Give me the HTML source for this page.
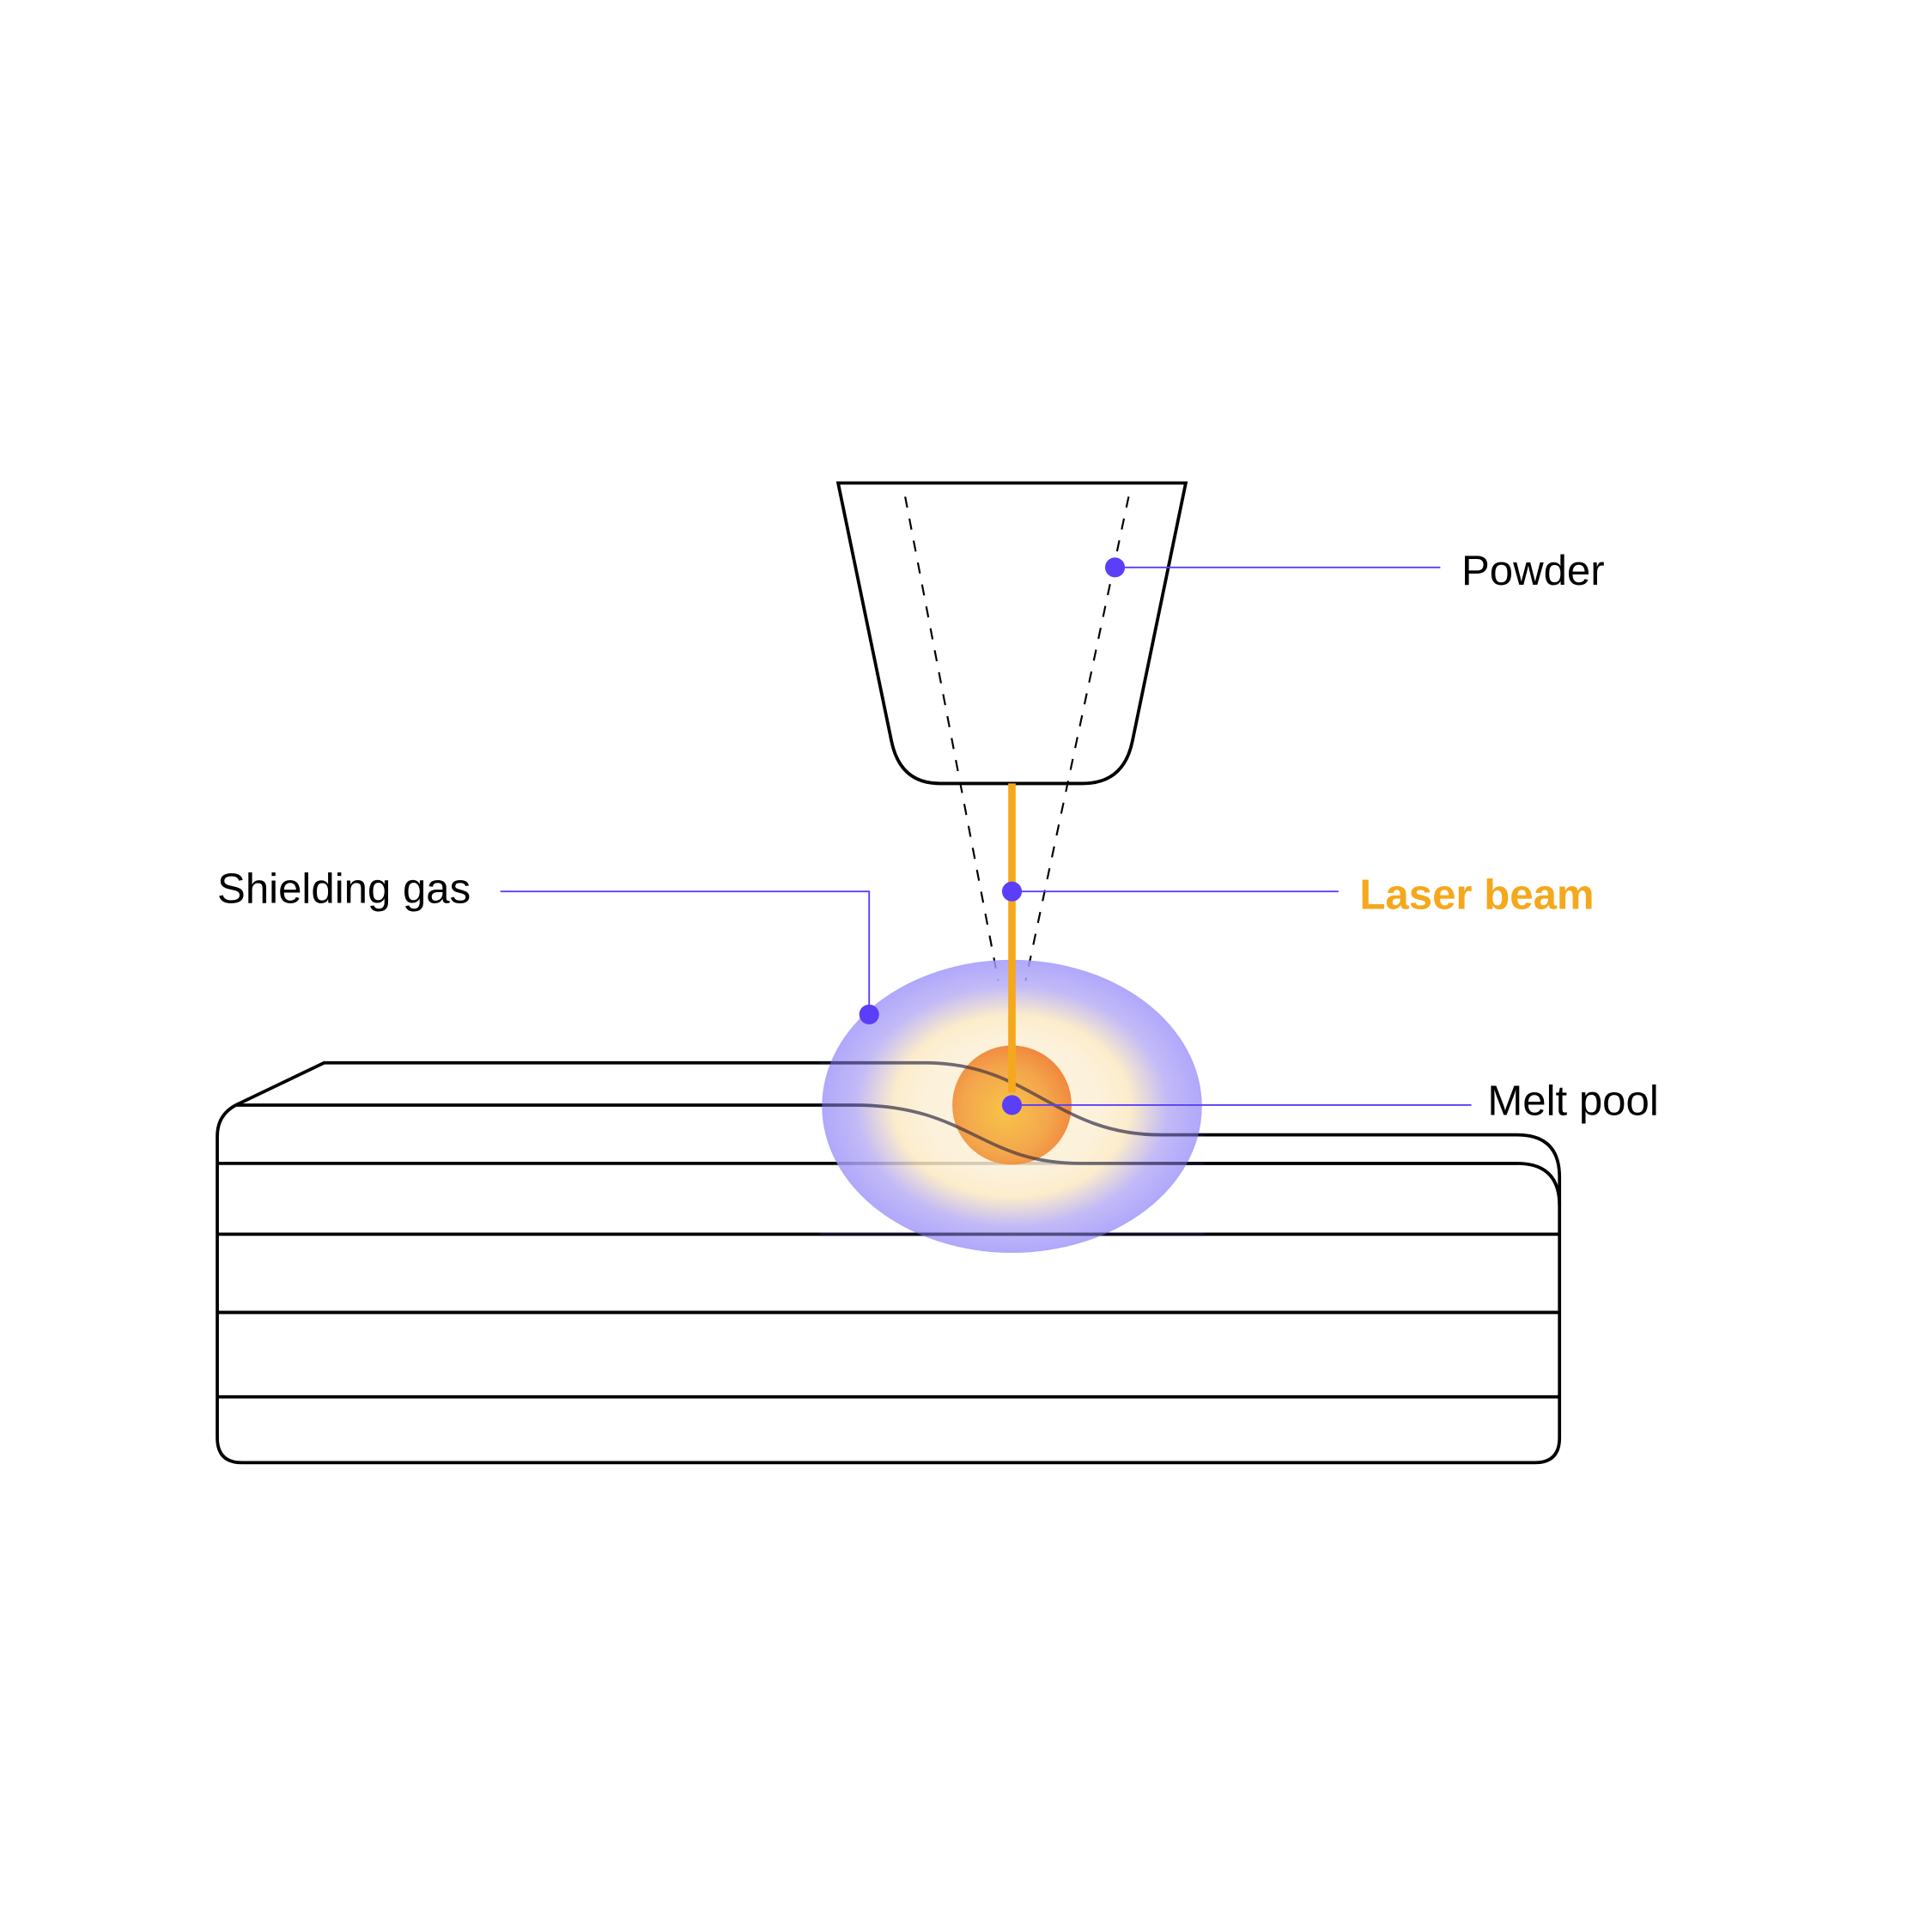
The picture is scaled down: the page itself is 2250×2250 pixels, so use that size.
<!DOCTYPE html>
<html><head><meta charset="utf-8"><style>
html,body{margin:0;padding:0;background:#fff;}
svg{display:block;}
text{font-family:"Liberation Sans",sans-serif;}
</style></head><body>
<svg width="2250" height="2250" viewBox="0 0 1556 1556" xmlns="http://www.w3.org/2000/svg">
<defs>
<radialGradient id="gas" cx="0.5" cy="0.5" r="0.5">
<stop offset="0" stop-color="#FDF0D6"/>
<stop offset="0.45" stop-color="#FCEFD6"/>
<stop offset="0.62" stop-color="#FBE9C2"/>
<stop offset="0.82" stop-color="#B8AEF5"/>
<stop offset="1" stop-color="#A298FB"/>
</radialGradient>
<radialGradient id="pool" cx="0.45" cy="0.55" r="0.6">
<stop offset="0" stop-color="#F7C03A"/>
<stop offset="0.6" stop-color="#F3A040"/>
<stop offset="1" stop-color="#EE7A2E"/>
</radialGradient>
</defs>
<g fill="none" stroke="#000" stroke-width="2.6">
<path d="M675,389 L955,389 L912,597 Q905,631 872,631 L757,631 Q725,631 718,597 Z"/>
<path d="M190,890 L261,856 L745,856 C830,856 850,914 935,914 L1222,914 Q1256,914 1256,948 L1256,1158 Q1256,1178 1236,1178 L195,1178 Q175,1178 175,1158 L175,915 Q175,898 190,890"/>
<path d="M190,890 L688,890 C780,890 790,937 870,937 L1222,937 Q1256,937 1256,971"/>
<path d="M175,937 L1222,937"/>
<path d="M175,994 L1256,994"/>
<path d="M175,1057 L1256,1057"/>
<path d="M175,1125 L1256,1125"/>
</g>
<g stroke="#000" stroke-width="1.5" stroke-dasharray="9,9">
<line x1="729" y1="400" x2="804" y2="790"/>
<line x1="909" y1="400" x2="826" y2="790"/>
</g>
<ellipse cx="815" cy="891" rx="153" ry="118" fill="url(#gas)" opacity="0.85"/>
<circle cx="815" cy="890" r="48" fill="url(#pool)" opacity="0.92"/>
<g fill="none" stroke="#1a1a40" stroke-width="2.6" opacity="0.55">
<path d="M660,856 L745,856 C830,856 850,914 935,914 L970,914"/>
<path d="M660,890 L688,890 C780,890 790,937 870,937 L970,937"/>
<path d="M660,994 L970,994"/>
</g>
<line x1="815" y1="631" x2="815" y2="880" stroke="#F5A81C" stroke-width="6"/>
<g stroke="#5B3FF8" stroke-width="1.3" fill="none">
<line x1="898" y1="457" x2="1160" y2="457"/>
<line x1="815" y1="718" x2="1078" y2="718"/>
<polyline points="700,817 700,718 403,718"/>
<line x1="815" y1="890" x2="1185" y2="890"/>
</g>
<g fill="#5B3FF8">
<circle cx="898" cy="457" r="8"/>
<circle cx="815" cy="718" r="8"/>
<circle cx="700" cy="817" r="8"/>
<circle cx="815" cy="890" r="8"/>
</g>
<text x="1177" y="471" font-size="34" fill="#000">Powder</text>
<text x="1095" y="732" font-size="34" font-weight="bold" fill="#F5A81C">Laser beam</text>
<text x="175" y="727" font-size="34" fill="#000">Shielding gas</text>
<text x="1198" y="898" font-size="34" fill="#000">Melt pool</text>
</svg>
</body></html>
